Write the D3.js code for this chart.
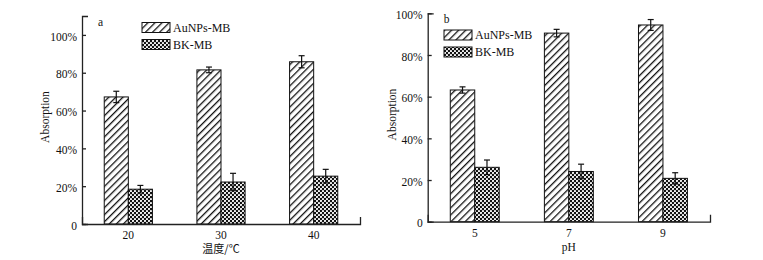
<!DOCTYPE html>
<html>
<head>
<meta charset="utf-8">
<script src="https://cdn.jsdelivr.net/npm/d3@7"></script>
<style>
  body { margin: 0; background: #fff; }
  text { font-family: "Liberation Serif", "Times New Roman", serif; fill: #111; }
  .cjk { font-family: "Noto Sans CJK SC", sans-serif; }
</style>
</head>
<body>
<div id="container"></div>
<script>
// data
const series = ['AuNPs-MB', 'BK-MB'];

const tempCats = ['20', '30', '40'];
const tempAuNPs = [67.2, 81.5, 85.8];
const tempAuNPsErr = [3.0, 1.5, 3.2];
const tempBK = [18.4, 22.2, 25.3];
const tempBKErr = [2.0, 4.6, 3.6];

const phCats = ['5', '7', '9'];
const phAuNPs = [63.2, 90.5, 94.4];
const phAuNPsErr = [1.5, 1.8, 2.6];
const phBK = [26.1, 24.1, 20.8];
const phBKErr = [3.5, 3.5, 2.7];

const yTicks = [0, 20, 40, 60, 80, 100];

const w = 763, h = 260;

const svg = d3.select('#container').append('svg')
    .attr('width', w)
    .attr('height', h);

const defs = svg.append('defs');

// diagonal hatch
const hatch = defs.append('pattern')
    .attr('id', 'hatch')
    .attr('patternUnits', 'userSpaceOnUse')
    .attr('width', 5)
    .attr('height', 5)
    .attr('patternTransform', 'rotate(45)');
hatch.append('rect').attr('width', 5).attr('height', 5).attr('fill', '#fff');
hatch.append('line')
    .attr('x1', 0).attr('y1', 0).attr('x2', 0).attr('y2', 5)
    .attr('stroke', '#111').attr('stroke-width', 2.6);

// dense cross pattern
const cross = defs.append('pattern')
    .attr('id', 'cross')
    .attr('patternUnits', 'userSpaceOnUse')
    .attr('width', 4)
    .attr('height', 4);
cross.append('rect').attr('width', 4).attr('height', 4).attr('fill', '#111');
cross.append('circle').attr('cx', 1).attr('cy', 1).attr('r', 1.1).attr('fill', '#fff');
cross.append('circle').attr('cx', 3).attr('cy', 3).attr('r', 1.1).attr('fill', '#fff');

const fills = ['url(#hatch)', 'url(#cross)'];

const drawPanel = (opt) => {
    const { cats, values, errors, left, right, top, bottom, yMax, letter, xLabel, xLabelCjk, legendX, legendY, labelX } = opt;

    const g = svg.append('g');

    const xScale = d3.scaleBand()
        .domain(cats)
        .range([left, right]);

    const bw = xScale.bandwidth();
    const xSub = d3.scaleBand()
        .domain(series)
        .range([bw * 0.24, bw * 0.76]);

    const yScale = d3.scaleLinear()
        .domain([0, yMax])
        .range([bottom, top]);

    const yAxis = d3.axisLeft(yScale)
        .tickValues(yTicks)
        .tickSizeInner(-4)
        .tickSizeOuter(-6)
        .tickPadding(5)
        .tickFormat(d => d === 0 ? '0' : d + '%');

    const ya = g.append('g')
        .attr('transform', 'translate(' + left + ',0)')
        .call(yAxis);
    ya.selectAll('path, line').attr('stroke', '#222').attr('stroke-width', 1.3);
    ya.selectAll('text').attr('font-size', 11.5).attr('dy', '0.45em');

    // bars
    series.forEach((s, si) => {
        g.selectAll('.bar' + si)
            .data(cats)
            .enter()
            .append('rect')
            .attr('x', d => xScale(d) + xSub(s))
            .attr('y', (d, i) => yScale(values[si][i]))
            .attr('width', xSub.bandwidth())
            .attr('height', (d, i) => yScale(0) - yScale(values[si][i]))
            .attr('fill', fills[si])
            .attr('stroke', '#111')
            .attr('stroke-width', 1);
    });

    // error bars
    series.forEach((s, si) => {
        cats.forEach((c, i) => {
            const cx = xScale(c) + xSub(s) + xSub.bandwidth() / 2;
            const v = values[si][i], e = errors[si][i];
            g.append('line')
                .attr('x1', cx).attr('x2', cx)
                .attr('y1', yScale(v - e)).attr('y2', yScale(v + e))
                .attr('stroke', '#111').attr('stroke-width', 1.2);
            [v - e, v + e].forEach(t => {
                g.append('line')
                    .attr('x1', cx - 3).attr('x2', cx + 3)
                    .attr('y1', yScale(t)).attr('y2', yScale(t))
                    .attr('stroke', '#111').attr('stroke-width', 1.2);
            });
        });
    });

    const xAxis = d3.axisBottom(xScale)
        .tickSizeInner(0)
        .tickSizeOuter(-7)
        .tickPadding(7);

    const xa = g.append('g')
        .attr('transform', 'translate(0,' + bottom + ')')
        .call(xAxis);
    xa.selectAll('path, line').attr('stroke', '#222').attr('stroke-width', 1.3);
    xa.selectAll('text').attr('font-size', 11.5);

    // axis titles
    g.append('text')
        .attr('transform', 'translate(' + labelX + ',' + ((top + bottom) / 2 - 3) + ') rotate(-90)')
        .attr('text-anchor', 'middle')
        .attr('dy', '0.35em')
        .attr('font-size', 11.5)
        .text('Absorption');

    g.append('text')
        .attr('class', xLabelCjk ? 'cjk' : null)
        .attr('x', (left + right) / 2)
        .attr('y', bottom + 29)
        .attr('text-anchor', 'middle')
        .attr('font-size', xLabelCjk ? 11 : 11.5)
        .text(xLabel);

    // panel letter
    g.append('text')
        .attr('x', left + 16)
        .attr('y', top + 10)
        .attr('font-size', 11.5)
        .text(letter);

    // legend
    series.forEach((s, si) => {
        const ly = legendY + si * 17;
        g.append('rect')
            .attr('x', legendX)
            .attr('y', ly)
            .attr('width', 28)
            .attr('height', 10)
            .attr('fill', fills[si])
            .attr('stroke', '#111')
            .attr('stroke-width', 1);
        g.append('text')
            .attr('x', legendX + 31)
            .attr('y', ly + 9)
            .attr('font-size', 12)
            .text(s);
    });
};

drawPanel({
    cats: tempCats,
    values: [tempAuNPs, tempBK],
    errors: [tempAuNPsErr, tempBKErr],
    left: 82, right: 360, top: 16, bottom: 224, yMax: 110,
    letter: 'a', xLabel: '温度/℃', xLabelCjk: true,
    legendX: 142, legendY: 22.5, labelX: 45
});

drawPanel({
    cats: phCats,
    values: [phAuNPs, phBK],
    errors: [phAuNPsErr, phBKErr],
    left: 427.7, right: 710, top: 13.3, bottom: 221.7, yMax: 100,
    letter: 'b', xLabel: 'pH', xLabelCjk: false,
    legendX: 444, legendY: 30, labelX: 392
});
</script>
</body>
</html>
